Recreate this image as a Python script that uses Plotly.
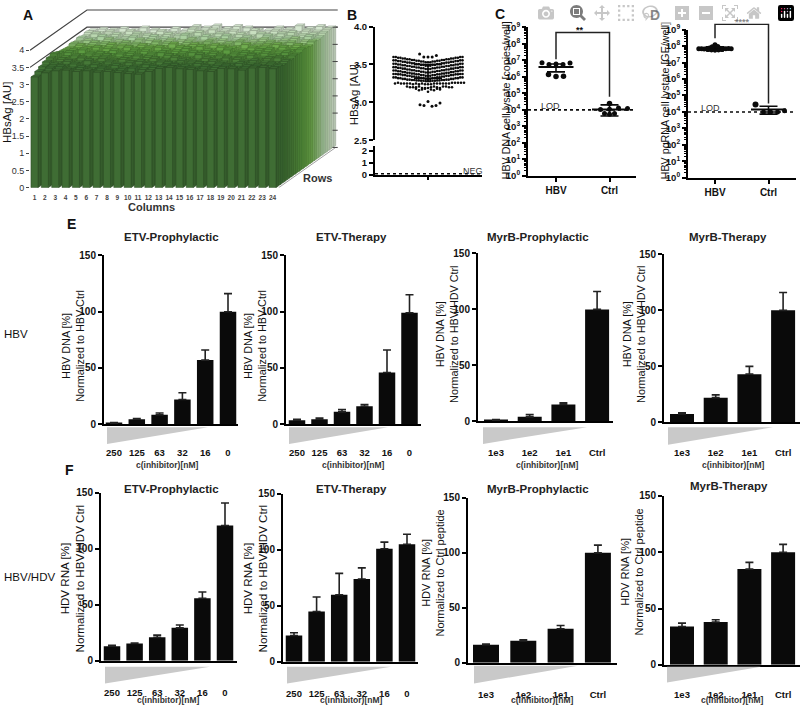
import math
import plotly.graph_objects as go

W, H = 800, 713
FONT = "Liberation Sans"
BLACK = "#0a0a0a"

# --- Panel A: HBsAg per well, front row first ---
plate_columns = list(range(1, 25))
plate_values = [
    [3.22, 3.34, 3.40, 3.42, 3.38, 3.40, 3.36, 3.38, 3.35, 3.32, 3.30, 3.38, 3.47, 3.50, 3.46, 3.44, 3.40, 3.38, 3.47, 3.46, 3.42, 3.48, 3.50, 3.46],
    [3.30, 3.40, 3.44, 3.38, 3.42, 3.36, 3.40, 3.34, 3.38, 3.40, 3.36, 3.42, 3.44, 3.48, 3.44, 3.40, 3.44, 3.42, 3.46, 3.40, 3.44, 3.46, 3.42, 3.44],
    [3.36, 3.42, 3.38, 3.44, 3.36, 3.42, 3.38, 3.40, 3.34, 3.38, 3.42, 3.36, 3.46, 3.42, 3.40, 3.46, 3.38, 3.44, 3.40, 3.46, 3.42, 3.38, 3.44, 3.40],
    [3.42, 3.38, 3.44, 3.40, 3.46, 3.38, 3.42, 3.36, 3.40, 3.44, 3.38, 3.42, 3.40, 3.46, 3.42, 3.38, 3.44, 3.40, 3.36, 3.42, 3.46, 3.40, 3.38, 3.44],
    [3.46, 3.42, 3.40, 3.46, 3.38, 3.44, 3.40, 3.42, 3.38, 3.36, 3.44, 3.40, 3.48, 3.42, 3.38, 3.44, 3.40, 3.46, 3.42, 3.38, 3.40, 3.44, 3.46, 3.40],
    [3.50, 3.40, 3.44, 3.38, 3.42, 3.46, 3.36, 3.40, 3.44, 3.40, 3.36, 3.46, 3.42, 3.38, 3.48, 3.40, 3.44, 3.38, 3.42, 3.46, 3.38, 3.42, 3.40, 3.44],
    [3.44, 3.46, 3.38, 3.42, 3.44, 3.38, 3.42, 3.44, 3.36, 3.42, 3.46, 3.38, 3.44, 3.46, 3.40, 3.44, 3.36, 3.42, 3.46, 3.40, 3.44, 3.38, 3.46, 3.42],
    [3.40, 3.44, 3.46, 3.40, 3.36, 3.44, 3.38, 3.46, 3.42, 3.38, 3.44, 3.42, 3.50, 3.40, 3.44, 3.38, 3.46, 3.40, 3.38, 3.44, 3.48, 3.40, 3.42, 3.46],
    [3.38, 3.40, 3.42, 3.46, 3.42, 3.38, 3.46, 3.40, 3.44, 3.46, 3.38, 3.46, 3.42, 3.48, 3.38, 3.46, 3.42, 3.36, 3.44, 3.42, 3.38, 3.46, 3.40, 3.44],
    [3.36, 3.44, 3.40, 3.38, 3.46, 3.42, 3.36, 3.44, 3.40, 3.38, 3.48, 3.40, 3.46, 3.42, 3.44, 3.40, 3.38, 3.46, 3.40, 3.44, 3.46, 3.38, 3.44, 3.40],
    [3.40, 3.36, 3.44, 3.42, 3.38, 3.44, 3.40, 3.36, 3.46, 3.42, 3.36, 3.44, 3.40, 3.46, 3.38, 3.42, 3.46, 3.38, 3.42, 3.46, 3.40, 3.44, 3.36, 3.46],
    [3.38, 3.42, 3.36, 3.46, 3.40, 3.36, 3.44, 3.42, 3.38, 3.44, 3.40, 3.46, 3.38, 3.44, 3.42, 3.36, 3.44, 3.40, 3.46, 3.38, 3.42, 3.48, 3.40, 3.42],
    [3.42, 3.38, 3.46, 3.40, 3.36, 3.44, 3.38, 3.46, 3.40, 3.36, 3.50, 3.42, 3.46, 3.40, 3.48, 3.38, 3.44, 3.36, 3.48, 3.40, 3.44, 3.38, 3.46, 3.44],
    [3.38, 3.46, 3.40, 3.44, 3.38, 3.46, 3.42, 3.38, 3.44, 3.40, 3.46, 3.50, 3.42, 3.46, 3.40, 3.44, 3.38, 3.46, 3.40, 3.46, 3.50, 3.42, 3.44, 3.48],
    [3.42, 3.40, 3.44, 3.38, 3.46, 3.40, 3.36, 3.46, 3.40, 3.38, 3.52, 3.44, 3.50, 3.44, 3.46, 3.40, 3.48, 3.38, 3.46, 3.44, 3.40, 3.46, 3.44, 3.50],
    [3.40, 3.44, 3.42, 3.46, 3.40, 3.48, 3.42, 3.38, 3.46, 3.40, 3.52, 3.48, 3.54, 3.46, 3.52, 3.48, 3.42, 3.40, 3.48, 3.44, 3.54, 3.46, 3.52, 3.48],
]
plate_row_colors = ["#3f6d34", "#3f7035", "#427536", "#467938", "#4b8039", "#50893b", "#56923e", "#5c9b41",
                    "#65a345", "#70ac4f", "#82b668", "#98c483", "#aad0a0", "#bad7b0", "#c8dfc0", "#d4e6cf"]
plate_axis_values = [0, 0.5, 1, 1.5, 2, 2.5, 3, 3.5, 4]
plate_axis_labels = ["0", "0.5", "1", "1.5", "2", "2.5", "3", "3.5", "4"]

# --- Panel B: one band of the swarm per list, listed from centre outwards ---
hbsag_band_1 = [3.53, 3.53, 3.53, 3.54, 3.54, 3.54, 3.54, 3.55, 3.55, 3.55, 3.55, 3.56, 3.56, 3.56, 3.56, 3.57, 3.57, 3.57, 3.57, 3.58, 3.58, 3.58, 3.58, 3.59, 3.59, 3.59, 3.59, 3.60, 3.60, 3.60, 3.60]
hbsag_band_2 = [3.485, 3.485, 3.485, 3.495, 3.495, 3.495, 3.495, 3.505, 3.505, 3.505, 3.505, 3.515, 3.515, 3.515, 3.515, 3.525, 3.525, 3.525, 3.525, 3.535, 3.535, 3.535, 3.535, 3.545, 3.545, 3.545, 3.545, 3.555, 3.555, 3.555, 3.555]
hbsag_band_3 = [3.44, 3.44, 3.44, 3.45, 3.45, 3.45, 3.45, 3.46, 3.46, 3.46, 3.46, 3.47, 3.47, 3.47, 3.47, 3.48, 3.48, 3.48, 3.48, 3.49, 3.49, 3.49, 3.49, 3.50, 3.50, 3.50, 3.50, 3.51, 3.51, 3.51, 3.51]
hbsag_band_4 = [3.395, 3.395, 3.395, 3.405, 3.405, 3.405, 3.405, 3.415, 3.415, 3.415, 3.415, 3.425, 3.425, 3.425, 3.425, 3.435, 3.435, 3.435, 3.435, 3.445, 3.445, 3.445, 3.445, 3.455, 3.455, 3.455, 3.455, 3.465, 3.465, 3.465, 3.465]
hbsag_band_5 = [3.35, 3.35, 3.35, 3.36, 3.36, 3.36, 3.36, 3.37, 3.37, 3.37, 3.37, 3.38, 3.38, 3.38, 3.38, 3.39, 3.39, 3.39, 3.39, 3.40, 3.40, 3.40, 3.40, 3.41, 3.41, 3.41, 3.41, 3.42, 3.42, 3.42, 3.42]
hbsag_band_6 = [3.31, 3.31, 3.31, 3.32, 3.32, 3.32, 3.32, 3.33, 3.33, 3.33, 3.33, 3.34, 3.34, 3.34, 3.34, 3.35, 3.35, 3.35, 3.35, 3.36, 3.36, 3.36, 3.36, 3.37, 3.37, 3.37, 3.37, 3.375, 3.375, 3.375, 3.375]
hbsag_band_7 = [3.28, 3.28, 3.28, 3.285, 3.285, 3.285, 3.285, 3.29, 3.29, 3.29, 3.29, 3.295, 3.295, 3.295, 3.295, 3.30, 3.30, 3.30, 3.30, 3.31, 3.31, 3.31, 3.31, 3.32, 3.32, 3.32, 3.32, 3.33, 3.33, 3.33, 3.33]
hbsag_sparse_1 = [3.24, 3.24, 3.24, 3.25, 3.25, 3.25, 3.24, 3.25, 3.25, 3.25, 3.24, 3.25, 3.25, 3.25, 3.25, 3.26, 3.25, 3.26, 3.25, 3.26, 3.26, 3.26, 3.25, 3.26]
hbsag_sparse_2 = [3.19, 3.20, 3.19, 3.21, 3.19, 3.20, 3.21, 3.19, 3.20, 3.21, 3.20, 3.21, 3.20, 3.20, 3.21, 3.20]
hbsag_sparse_3 = [3.14, 3.17, 3.18, 3.16, 3.17, 3.18, 3.16, 3.17, 3.18]
hbsag_high = [3.60, 3.60, 3.60, 3.62, 3.64]
hbsag_low = [3.01, 2.95, 2.96, 2.96, 2.97, 2.99]
hbsag_mean = 3.41
hbsag_sd = 0.09
neg_values = [0.1, 0.1]

# --- Panels C and D: copies per well ---
dna_hbv_top = [6.0e6, 5.5e6, 5.5e6, 7.0e6, 7.2e6]
dna_hbv_bottom = [1.05e6, 1.1e6, 1.4e6]
dna_ctrl_top = [2.4e4]
dna_ctrl_mid = [1.1e4, 1.3e4, 1.05e4, 1.2e4]
dna_ctrl_bottom = [5.5e3, 6.0e3, 6.0e3]
dna_means = [4.0e6, 1.05e4]
dna_sd_high = [6.0e6, 2.0e4]
dna_sd_low = [2.0e6, 4.2e3]
dna_bracket = [1.15e7, 4.8e8, 4.8e8, 6.3e4]

rna_hbv_mid = [7.5e7, 7.5e7, 7.0e7, 7.2e7, 7.5e7, 7.0e7, 7.0e7, 6.8e7, 6.6e7, 7.0e7, 6.8e7, 6.8e7, 6.8e7]
rna_hbv_top = [1.2e8, 9.5e7, 9.0e7]
rna_hbv_bottom = [5.2e7, 5.4e7, 5.4e7, 5.8e7, 5.8e7]
rna_ctrl_top = [2.8e4]
rna_ctrl_mid = [1.0e4, 1.0e4, 1.0e4, 1.2e4]
rna_means = [7.0e7, 1.4e4]
rna_sd_high = [9.0e7, 2.2e4]
rna_sd_low = [5.0e7, 7.4e3]
rna_bracket = [3.0e8, 2.1e9, 2.1e9, 3.3e4]
log_ticks = [1e0, 1e1, 1e2, 1e3, 1e4, 1e5, 1e6, 1e7, 1e8, 1e9]
log_labels = [f"10<sup>{n}</sup>" for n in range(10)]
group_labels = ["HBV", "Ctrl"]

# --- Panels E and F: bar heights and upper error bars ---
etv_doses = ["250", "125", "63", "32", "16", "0"]
myrb_doses = ["1e3", "1e2", "1e1", "Ctrl"]

e1_means = [1, 4.5, 8.5, 22, 57, 100]
e1_err = [0.5, 0.5, 1.5, 6, 9, 16]
e2_means = [3.5, 4.5, 11, 16, 46, 99]
e2_err = [1, 1, 2, 1.5, 20, 16]
e3_means = [1, 4, 15, 100]
e3_err = [0.5, 2, 1.5, 16]
e4_means = [7.5, 22, 43, 100]
e4_err = [1, 2.5, 7, 16]
f1_means = [13, 15.5, 21, 29.5, 56, 121]
f1_err = [0.8, 0.5, 2, 2.5, 5.5, 20]
f2_means = [23.5, 45, 60, 74, 101, 105]
f2_err = [2.5, 13, 19, 10, 6, 9]
f3_means = [16.5, 20, 31, 100]
f3_err = [0.5, 1, 3, 7]
f4_means = [34, 38, 85, 100]
f4_err = [3, 2, 6, 7]

fig = go.Figure()
axes = {}
annotations = []
shapes = []


def px_x(x):
    return x / W


def px_y(y):
    return 1 - y / H


def text(x, y, s, size=11, bold=False, angle=0, anchor="center", color="#111"):
    annotations.append(dict(
        x=px_x(x), y=px_y(y), xref="paper", yref="paper", text=f"<b>{s}</b>" if bold else s,
        showarrow=False, textangle=angle, xanchor=anchor, yanchor="middle",
        font=dict(family=FONT, size=size, color=color),
    ))


def set_axes(n, left, right, top, bottom, xaxis, yaxis):
    suffix = "" if n == 1 else str(n)
    axes[f"xaxis{suffix}"] = dict(domain=[px_x(left), px_x(right)], anchor=f"y{suffix}", showgrid=False,
                                  zeroline=False, **xaxis)
    axes[f"yaxis{suffix}"] = dict(domain=[px_y(bottom), px_y(top)], anchor=f"x{suffix}", showgrid=False,
                                  zeroline=False, **yaxis)
    return (f"x{suffix}", f"y{suffix}")


def tick_font(size=9.5):
    return dict(family=FONT, size=size, color="#111", weight=700)


def swarm_x(center, values, step):
    # centre first, then alternating right / left
    return [center + (1 if i % 2 else -1) * math.ceil(i / 2) * step for i in range(len(values))]


def add_swarm(ref, center, values, step, size=5):
    fig.add_trace(go.Scatter(x=swarm_x(center, values, step), y=values, mode="markers", xaxis=ref[0], yaxis=ref[1],
                             marker=dict(color=BLACK, size=size), cliponaxis=False))


# --- Panel A ---
DEPTH_X, DEPTH_Y = 0.367, 0.078
ref_a = set_axes(
    1, 30, 340, 0, 184,
    dict(range=[0.565, 30.52], tickvals=plate_columns, ticktext=[str(c) for c in plate_columns], showline=False,
         ticks="outside", ticklen=4, tickcolor="rgba(0,0,0,0)", tickfont=dict(family=FONT, size=6.5, color="#444", weight=700)),
    dict(range=[0, 184 / 35], tickvals=plate_axis_values, ticktext=plate_axis_labels, showline=False,
         ticks="outside", ticklen=3, tickcolor="#444", tickfont=dict(family=FONT, size=9, color="#333")),
)
BAR_X, BAR_DX, BAR_DY = 0.34, 0.26, 0.055


def closed(points, xs, ys):
    for px_, py_ in points + points[:1]:
        xs.append(px_)
        ys.append(py_)
    xs.append(None)
    ys.append(None)


def darker(color, f):
    r, g, b = (int(color[i:i + 2], 16) for i in (1, 3, 5))
    return f"rgb({int(r * f)},{int(g * f)},{int(b * f)})"


# back wall and its outline sit behind the bars
x_left, x_right = 0.565, 30.3
back_dx, back_dy = 15 * DEPTH_X, 15 * DEPTH_Y
for level in (3.5, 4):
    fig.add_trace(go.Scatter(x=[x_left, x_left + back_dx, x_right], y=[level, level + back_dy, level + back_dy],
                             mode="lines", xaxis=ref_a[0], yaxis=ref_a[1], line=dict(color="#444", width=1.2)))

for row in range(15, -1, -1):
    ox, oy = row * DEPTH_X, row * DEPTH_Y
    fx, fy, tx, ty, sx, sy = [], [], [], [], [], []
    for col, value in zip(plate_columns, plate_values[row]):
        l, r = col - BAR_X + ox, col + BAR_X + ox
        closed([(l, oy), (r, oy), (r, value + oy), (l, value + oy)], fx, fy)
        closed([(l, value + oy), (r, value + oy), (r + BAR_DX, value + oy + BAR_DY), (l + BAR_DX, value + oy + BAR_DY)], tx, ty)
        closed([(r, oy), (r + BAR_DX, oy + BAR_DY), (r + BAR_DX, value + oy + BAR_DY), (r, value + oy)], sx, sy)
    color = plate_row_colors[row]
    edge = darker(color, 0.72)
    for xs, ys, fill in ((sx, sy, darker(color, 0.85)), (tx, ty, darker(color, 1.0)), (fx, fy, color)):
        fig.add_trace(go.Scatter(x=xs, y=ys, mode="lines", fill="toself", fillcolor=fill, xaxis=ref_a[0], yaxis=ref_a[1],
                                 line=dict(color=edge, width=0.6)))

# floor edge and the ticks on the right wall
fig.add_trace(go.Scatter(x=[24.6, 24.6 + back_dx], y=[0, back_dy], mode="lines", xaxis=ref_a[0], yaxis=ref_a[1],
                         line=dict(color="#888", width=0.8)))
for level in plate_axis_values[:8]:
    fig.add_trace(go.Scatter(x=[x_right - 0.5, x_right], y=[level + back_dy, level + back_dy], mode="lines",
                             xaxis=ref_a[0], yaxis=ref_a[1], line=dict(color="#444", width=1)))

text(28, 8, "A", 14, True)
text(7, 108, "HBsAg [AU]", 11.5, False, -90)
text(151, 204, "Columns", 11, True, color="#333")
text(317, 174, "Rows", 11, True, color="#333")

# --- Panel B ---
ref_b = set_axes(
    2, 375, 482, 20, 135.7,
    dict(range=[-53, 54], visible=False),
    dict(range=[2.5, 4.0], tickvals=[2.5, 3.0, 3.5, 4.0], ticktext=["2.5", "3.0", "3.5", "4.0"], showline=True,
         linecolor="black", linewidth=2, ticks="outside", ticklen=4, tickwidth=1.5, tickcolor="black", tickfont=tick_font(9.5)),
)
ref_b2 = set_axes(
    3, 375, 482, 141.7, 171,
    dict(range=[-53, 54], tickvals=[0], ticktext=[""], showline=True, linecolor="black", linewidth=2, ticks="outside",
         ticklen=3, tickwidth=1.5, tickcolor="black"),
    dict(range=[0, 2.4], tickvals=[0, 1, 2], ticktext=["0", "1", "2"], showline=True, linecolor="black", linewidth=2,
         ticks="outside", ticklen=4, tickwidth=1.5, tickcolor="black", tickfont=tick_font(9.5)),
)
for band in (hbsag_band_1, hbsag_band_2, hbsag_band_3, hbsag_band_4, hbsag_band_5, hbsag_band_6, hbsag_band_7):
    add_swarm(ref_b, 0, band, 2.3, 2.6)
add_swarm(ref_b, 0, hbsag_sparse_1, 3.0, 2.6)
add_swarm(ref_b, 0, hbsag_sparse_2, 3.0, 2.6)
add_swarm(ref_b, 0, hbsag_sparse_3, 3.0, 2.6)
add_swarm(ref_b, 0, hbsag_high, 4.2, 3)
add_swarm(ref_b, 0, hbsag_low, 4.0, 3)
fig.add_trace(go.Scatter(x=[0], y=[hbsag_mean], mode="markers", xaxis=ref_b[0], yaxis=ref_b[1], marker=dict(size=1, color=BLACK),
                         error_y=dict(type="constant", value=hbsag_sd, width=14, thickness=1.5, color=BLACK)))
fig.add_trace(go.Scatter(x=[-53, 54], y=neg_values, mode="lines", xaxis=ref_b2[0], yaxis=ref_b2[1],
                         line=dict(color=BLACK, width=1.5, dash="dot")))
text(352, 8, "B", 14, True)
text(354, 90, "HBsAg [AU]", 11.5, False, -90)
text(473, 167, "NEG", 9, False, color="#333")


# --- Panels C and D ---
def log_panel(n, left, right, top, bottom, gap, means, high, low, bracket, lod_x, stars):
    ref = set_axes(
        n, left, right, top, bottom,
        dict(range=[left, right], tickvals=[left + gap, left + gap + 53.5], ticktext=group_labels, showline=True, linecolor="black",
             linewidth=2, ticks="outside", ticklen=4, tickwidth=1.5, tickcolor="black", tickfont=tick_font(10)),
        dict(type="log", range=[0, 9], tickvals=log_ticks, ticktext=log_labels, showline=True, linecolor="black", linewidth=2,
             ticks="outside", ticklen=4, tickwidth=1.5, tickcolor="black", tickfont=tick_font(9.5),
             minor=dict(ticks="outside", ticklen=2, tickwidth=1, tickcolor="black", dtick="D1")),
    )
    # the bracket can run above 10^9, so it gets a hidden copy of the axis with more headroom
    decade = (bottom - top) / 9
    ref_top = set_axes(
        n + 10, left, right, top - 0.6 * decade, bottom,
        dict(range=[left, right], visible=False),
        dict(type="log", range=[0, 9.6], visible=False),
    )
    centers = [left + gap, left + gap + 53.5]
    fig.add_trace(go.Scatter(x=[left, lod_x], y=[1e4, 1e4], mode="lines", xaxis=ref_top[0], yaxis=ref_top[1], cliponaxis=False,
                             line=dict(color=BLACK, width=1.6, dash="dot")))
    fig.add_trace(go.Scatter(x=centers, y=means, mode="markers", xaxis=ref[0], yaxis=ref[1], marker=dict(size=1, color=BLACK),
                             error_x=dict(type="constant", value=17.5, width=0, thickness=2, color=BLACK),
                             error_y=dict(type="data", symmetric=False, width=9, thickness=1.6, color=BLACK,
                                          array=[h - m for h, m in zip(high, means)],
                                          arrayminus=[m - v for m, v in zip(means, low)])))
    fig.add_trace(go.Scatter(x=[centers[0], centers[0], centers[1], centers[1]], y=bracket, mode="lines",
                             xaxis=ref_top[0], yaxis=ref_top[1], cliponaxis=False, line=dict(color="#222", width=1.5)))
    text(stars[0], stars[1], stars[2], 9, True)
    return ref, centers


ref_c, cen_c = log_panel(4, 528, 636, 20.7, 172, 28, dna_means, dna_sd_high, dna_sd_low, dna_bracket, 633, (580, 23, "**"))
add_swarm(ref_c, cen_c[0], dna_hbv_top, 7, 5)
add_swarm(ref_c, cen_c[0], dna_hbv_bottom, 7.5, 5.5)
add_swarm(ref_c, cen_c[1], dna_ctrl_top, 5, 5.5)
add_swarm(ref_c, cen_c[1], dna_ctrl_mid, 9, 5)
add_swarm(ref_c, cen_c[1], dna_ctrl_bottom, 5, 5)
text(500, 7, "C", 14, True)
text(506, 95, "HBV DNA cell lysate [copies/well]", 10.7, False, -90)
text(539, 101, "LOD", 9, False, anchor="left", color="#333")

ref_d, cen_d = log_panel(5, 688, 796, 23, 174, 27, rna_means, rna_sd_high, rna_sd_low, rna_bracket, 797, (742, 15, "****"))
add_swarm(ref_d, cen_d[0], rna_hbv_mid, 2.7, 5)
add_swarm(ref_d, cen_d[0], rna_hbv_top, 2.8, 5)
add_swarm(ref_d, cen_d[0], rna_hbv_bottom, 3.5, 4)
add_swarm(ref_d, cen_d[1] - 13, rna_ctrl_top, 5, 6)
add_swarm(ref_d, cen_d[1] + 2, rna_ctrl_mid, 7, 5)
text(655, 8, "D", 14, True)
text(665, 96, "HBV pgRNA cell lystate [GE/well]", 10.7, False, -90)
text(699, 103, "LOD", 9, False, anchor="left", color="#333")

# --- Panels E and F: layout per panel ---
bar_panels = [
    (6, e1_means, e1_err, etv_doses, 104, 238, 253, 425, 114, 22.8, 16.5, 18, "ETV-Prophylactic", (171, 234), 167, 467,
     ("HBV DNA [%]", "Normalized to HBV Ctrl"), 73, 345, (107, 208, 428, 445), 10.8),
    (7, e2_means, e2_err, etv_doses, 286, 421, 253, 425, 297, 22.5, 16.5, 18, "ETV-Therapy", (351, 234), 353, 467,
     ("HBV DNA [%]", "Normalized to HBV Ctrl"), 255, 345, (289, 388, 428, 445), 10.8),
    (8, e3_means, e3_err, myrb_doses, 478, 613, 251, 422, 496, 33.7, 24, 21, "MyrB-Prophylactic", (538, 234), 547, 467,
     ("HBV DNA [%]", "Normalized to HBV/HDV Ctrl"), 447, 334, (483, 587, 428, 445), 10.8),
    (9, e4_means, e4_err, myrb_doses, 664, 800, 252, 423, 682, 33.7, 24, 20, "MyrB-Therapy", (728, 234), 733, 467,
     ("HBV DNA [%]", "Normalized to HBV/HDV Ctrl"), 634, 334, (668, 773, 428, 446), 10.8),
    (10, f1_means, f1_err, etv_doses, 101, 237, 495, 666, 112, 22.6, 16.5, 22, "ETV-Prophylactic", (171, 491), 168, 706,
     ("HDV RNA [%]", "Normalized to HBV/HDV Ctrl"), 72, 582, (105, 210, 672, 689), 11.6),
    (11, f2_means, f2_err, etv_doses, 283, 418, 496, 667, 294, 22.6, 16.5, 22, "ETV-Therapy", (351, 491), 351, 706,
     ("HDV RNA [%]", "Normalized to HBV/HDV Ctrl"), 255, 582, (287, 391, 672, 689), 11.6),
    (12, f3_means, f3_err, myrb_doses, 468, 617, 500, 668, 486, 37.3, 26, 22, "MyrB-Prophylactic", (538, 491), 542, 706,
     ("HDV RNA [%]", "Normalized to Ctrl peptide"), 433, 577, (474, 578, 671, 689), 11),
    (13, f4_means, f4_err, myrb_doses, 664, 800, 498, 670, 682, 33.7, 24, 20, "MyrB-Therapy", (729, 488), 732, 706,
     ("HDV RNA [%]", "Normalized to Ctrl peptide"), 632, 576, (667, 761, 672, 688), 11),
]

for (n, means, errs, doses, left, right, top, bottom, c0, step, bar_w, tick_len, title, title_pos, x_title, x_title_y,
     y_title, y_title_x, y_title_y, wedge, y_size) in bar_panels:
    ref = set_axes(
        n, left, right, top, bottom,
        dict(range=[(left - c0) / step, (right - c0) / step], tickvals=list(range(len(doses))), ticktext=doses, showline=True,
             linecolor="black", linewidth=2, ticks="outside", ticklen=tick_len, tickcolor="rgba(0,0,0,0)", tickfont=tick_font(9.5)),
        dict(range=[0, 150], tickvals=[0, 50, 100, 150], showline=True, linecolor="black", linewidth=2, ticks="outside",
             ticklen=4, tickwidth=1.5, tickcolor="black", tickfont=tick_font(10)),
    )
    fig.add_trace(go.Bar(x=list(range(len(doses))), y=means, width=bar_w / step, xaxis=ref[0], yaxis=ref[1],
                         marker=dict(color=BLACK, line=dict(width=0)),
                         error_y=dict(type="data", symmetric=False, array=errs, arrayminus=[0] * len(errs),
                                      width=4, thickness=1.6, color="#222")))
    text(title_pos[0], title_pos[1], title, 11.5, True, color="#222")
    text(x_title, x_title_y, "c(inhibitor)[nM]", 8.5, True, color="#333")
    text(y_title_x, y_title_y, f"{y_title[0]}<br>{y_title[1]}", y_size, False, -90)
    w_l, w_r, w_t, w_b = wedge
    shapes.append(dict(type="path", xref="paper", yref="paper", fillcolor="#c9c9c9", line=dict(width=0),
                       path=f"M {px_x(w_l)} {px_y(w_t)} L {px_x(w_r)} {px_y(w_t)} L {px_x(w_l)} {px_y(w_b)} Z"))

text(71, 221, "E", 14, True)
text(69, 472, "F", 14, True)
text(2, 333, "HBV", 11.5, False, anchor="left")
text(2, 581, "HBV/HDV", 11.5, False, anchor="left")

fig.update_layout(
    width=W, height=H, margin=dict(l=0, r=0, t=0, b=0), paper_bgcolor="white", plot_bgcolor="rgba(0,0,0,0)",
    showlegend=False, annotations=annotations, shapes=shapes, font=dict(family=FONT), barmode="overlay", **axes,
)

# the page's default body margin would push the figure 8px off the window
fig.write_html("out.html", post_script="document.body.style.margin='0';document.documentElement.style.overflow='hidden';")
